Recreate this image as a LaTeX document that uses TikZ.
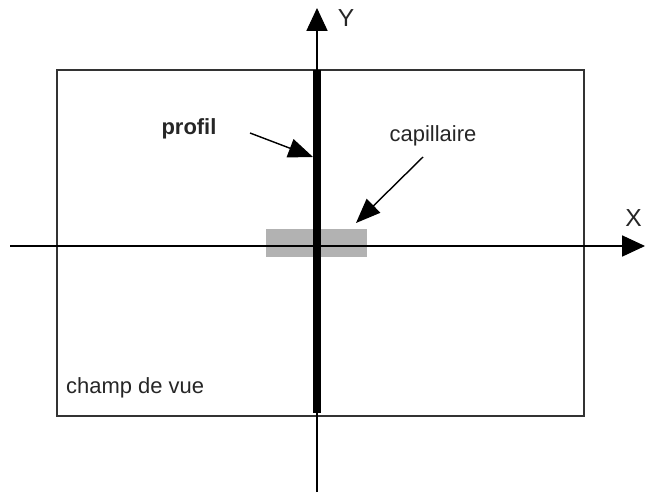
\documentclass[tikz,border=0pt]{standalone}
\usepackage{fontspec}
\setmainfont{Liberation Sans}
\usepackage{tikz}
\usetikzlibrary{
    arrows.meta,
    positioning
}
\tikzset{
    axis/.style={
        draw=black,
        line width=0.6pt,
        -{Triangle[length=13pt,width=12pt]}
    },
    field/.style={
        draw=black!80,
        line width=0.9pt
    },
    profline/.style={
        draw=black,
        line width=4.4pt
    },
    capbox/.style={
        fill=black!30
    },
    label/.style={
        font=\fontsize{12.5}{14}\selectfont,
        text=black!85,
        inner sep=1pt
    },
    pointer/.style={
        -{Triangle[length=14pt,width=11pt]},
        line width=0.8pt
    }
}

\begin{document}
\begin{tikzpicture}[x=0.02cm,y=-0.02cm]
\useasboundingbox (0,0) rectangle (645,497);

% champ de vue
\draw[field] (57,70) rectangle (584,416);
\node[label, anchor=west] (champ) at (64,388) {champ de vue};

% capillaire
\fill[capbox] (266,229) rectangle (367,257);

% axes
\coordinate (xstart) at (10,246);
\coordinate (xend) at (645,246);
\coordinate (ystart) at (317,492);
\coordinate (yend) at (317,8);
\draw[axis] (xstart) -- (xend);
\draw[axis] (ystart) -- (yend);
\node[label, font=\fontsize{14}{16}\selectfont, anchor=east] (xlab) at (644,218) {X};
\node[label, font=\fontsize{14}{16}\selectfont] (ylab) at (346,18) {Y};

% profil
\coordinate (ptop) at (317,70);
\coordinate (pbot) at (317,413);
\draw[profline] (ptop) -- (pbot);

\node[label, font=\fontsize{12.5}{14}\selectfont\bfseries] (profil) at (189,129) {profil};
\node[label] (capil) at (433,136) {capillaire};

\coordinate (pfrom) at (250,133);
\coordinate (pto) at (313,157);
\coordinate (cfrom) at (423,157);
\coordinate (cto) at (356,223);
\draw[pointer] (pfrom) -- (pto);
\draw[pointer] (cfrom) -- (cto);
\end{tikzpicture}
\end{document}
